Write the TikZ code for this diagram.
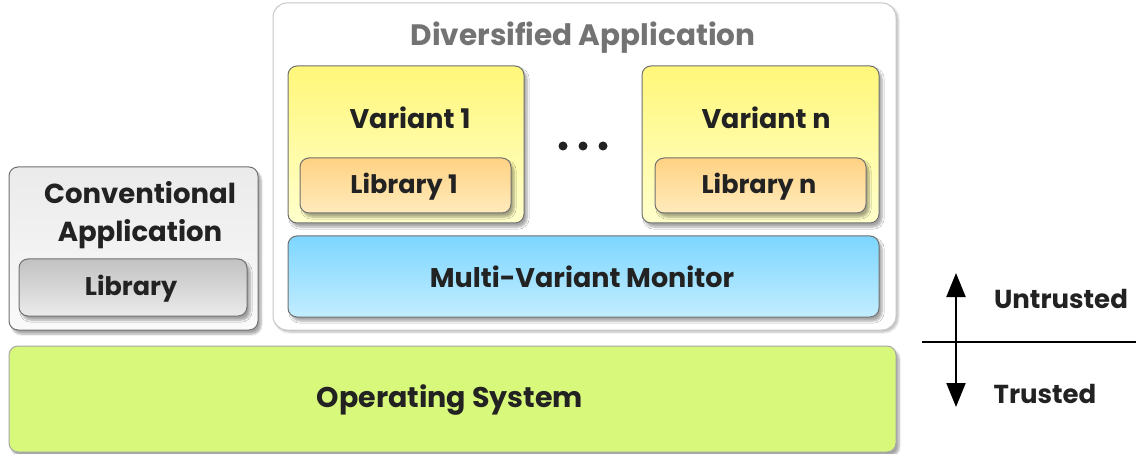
\documentclass[tikz,border=0pt]{standalone}
\usepackage{fontspec}
\setmainfont{Poppins}
\usetikzlibrary{shadows.blur,arrows.meta}
\definecolor{edge}{HTML}{707070}
\definecolor{txt}{HTML}{222222}
\definecolor{yelTop}{HTML}{FFF77A}
\definecolor{yelBot}{HTML}{FFFFCC}
\definecolor{orTop}{HTML}{FFD283}
\definecolor{orBot}{HTML}{FFEBBC}
\definecolor{bluTop}{HTML}{7DD6FF}
\definecolor{bluBot}{HTML}{C2EDFF}
\definecolor{osGreen}{HTML}{D8F87B}
\tikzset{
  box/.style={draw=edge, line width=1pt, rounded corners=9pt, inner sep=0pt,
    blur shadow={shadow xshift=3pt, shadow yshift=-4pt, shadow blur steps=6, shadow opacity=35}},
  lbl/.style={text=txt, font=\bfseries\fontsize{25.5}{29}\selectfont, inner sep=0pt},
  bigl/.style={text=txt, font=\bfseries\fontsize{27}{31}\selectfont, inner sep=0pt},
}
\begin{document}
\begin{tikzpicture}[x=1pt,y=-1pt]
\useasboundingbox (0,0) rectangle (1137,454);
% outer container for the diversified application
\node[box, draw=black!22, fill=white, rounded corners=14pt, minimum width=623pt, minimum height=327pt,
  blur shadow={shadow xshift=2pt, shadow yshift=-2pt, shadow opacity=15}] (div) at (584.5,166.5) {};
\node[bigl, text=black!55, font=\bfseries\fontsize{29.5}{33}\selectfont] (divt) at (583,38) {Diversified Application};
% conventional application
\node[box, top color=black!8, bottom color=black!2, minimum width=249pt, minimum height=163pt] (conv) at (133.5,248.5) {};
\node[bigl, align=center, font=\bfseries\fontsize{27.5}{38}\selectfont] (convt) at (140,215.5) {Conventional\\Application};
\node[box, top color=black!24, bottom color=black!8, minimum width=228pt, minimum height=57pt] (lib) at (133,287.5) {};
\node[lbl] (libt) at (131,289) {Library};
% variants
\node[box, top color=yelTop, bottom color=yelBot, minimum width=236pt, minimum height=157pt] (v1) at (406,144.5) {};
\node[bigl] (v1t) at (410,118) {Variant 1};
\node[box, top color=orTop, bottom color=orBot, minimum width=211pt, minimum height=55pt] (l1) at (405.5,185.5) {};
\node[lbl] (l1t) at (404,187) {Library 1};
\node[box, top color=yelTop, bottom color=yelBot, minimum width=237pt, minimum height=157pt] (vn) at (760.5,144.5) {};
\node[bigl] (vnt) at (766,118) {Variant n};
\node[box, top color=orTop, bottom color=orBot, minimum width=211pt, minimum height=55pt] (ln) at (760.5,185.5) {};
\node[lbl] (lnt) at (759,187) {Library n};
% ellipsis between the variants
\foreach \i/\xx in {1/563,2/583,3/603}
  \fill[txt] (\xx,146) circle (4.5pt) coordinate (dot\i);
% monitor
\node[box, top color=bluTop, bottom color=bluBot, minimum width=591pt, minimum height=81pt] (mvm) at (583.5,276.5) {};
\node[bigl] (mvmt) at (582,277) {Multi-Variant Monitor};
% operating system
\node[box, draw=black!35, fill=osGreen, minimum width=887pt, minimum height=106pt] (os) at (452.5,399) {};
\node[bigl, font=\bfseries\fontsize{28.5}{32}\selectfont] (ost) at (450,400) {Operating System};
% trust boundary
\coordinate (bl) at (922,342);
\coordinate (br) at (1136,342);
\coordinate (at) at (956,273);
\coordinate (ab) at (956,407);
\draw[line width=2pt] (bl) -- (br);
\draw[line width=2pt, {Triangle[length=24pt,width=19pt]}-{Triangle[length=24pt,width=19pt]}] (at) -- (ab);
\node[bigl, font=\bfseries\fontsize{26}{30}\selectfont] (unt) at (1061,299) {Untrusted};
\node[bigl, font=\bfseries\fontsize{26}{30}\selectfont] (trt) at (1045,394) {Trusted};
\end{tikzpicture}
\end{document}
